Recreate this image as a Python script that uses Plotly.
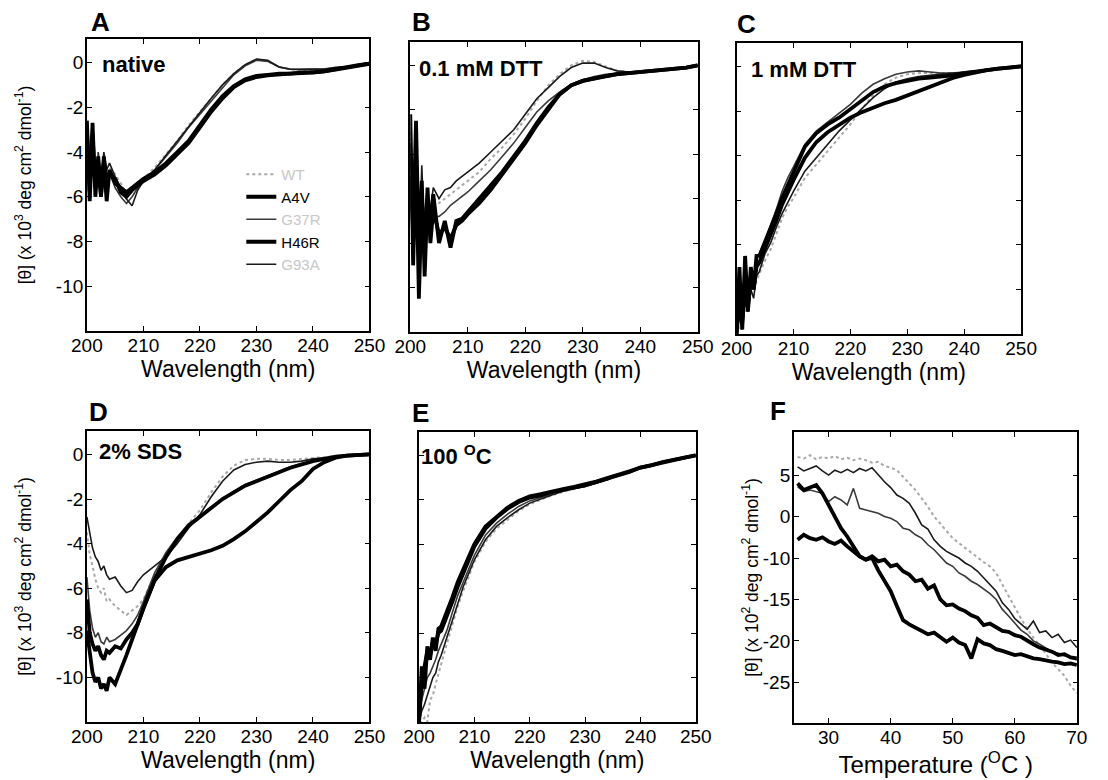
import plotly.graph_objects as go

# ---------------- data ----------------
WL = [200, 200.5, 201, 201.5, 202, 202.5, 203, 203.5, 204, 205, 206, 207, 208, 209, 210,
      212, 214, 216, 218, 220, 222, 224, 226, 228, 230, 232, 234, 236, 238, 240,
      242, 244, 246, 248, 250]

SERIES = ["WT", "A4V", "G37R", "H46R", "G93A"]

# Panel A: native
A_WT = [-2.8, -4.5, -3.4, -5.2, -4.6, -5.5, -4.4, -5.2, -4.7, -5.0, -5.4, -5.9, -5.8, -5.5, -5.2,
        -4.7, -4.1, -3.5, -2.8, -2.2, -1.6, -1.0, -0.5, -0.1, 0.15, 0.05, -0.2, -0.3, -0.35, -0.3,
        -0.3, -0.25, -0.2, -0.1, 0.0]
A_A4V = [-3.0, -5.8, -2.7, -6.0, -4.2, -5.9, -4.5, -6.2, -4.8, -5.4, -5.6, -5.8, -5.6, -5.4, -5.2,
         -4.9, -4.5, -4.0, -3.5, -2.8, -2.1, -1.5, -1.05, -0.75, -0.6, -0.55, -0.5, -0.5, -0.45, -0.45,
         -0.4, -0.3, -0.2, -0.12, -0.05]
A_G37R = [-3.5, -5.0, -4.0, -6.0, -4.0, -5.0, -4.3, -5.6, -4.9, -5.6, -6.0, -6.3, -6.0, -5.6, -5.3,
          -4.8, -4.2, -3.6, -2.9, -2.3, -1.7, -1.1, -0.55, -0.15, 0.1, 0.05, -0.2, -0.3, -0.3, -0.3,
          -0.28, -0.25, -0.2, -0.1, 0.0]
A_H46R = [-2.6, -6.2, -3.2, -5.6, -4.8, -6.0, -4.2, -5.4, -5.0, -5.2, -5.8, -6.0, -5.7, -5.5, -5.3,
          -5.0, -4.6, -4.1, -3.6, -2.9, -2.2, -1.6, -1.1, -0.8, -0.65, -0.58, -0.52, -0.5, -0.47, -0.45,
          -0.4, -0.32, -0.22, -0.14, -0.06]
A_G93A = [-3.2, -4.8, -3.0, -5.4, -4.4, -5.2, -4.0, -4.8, -4.5, -5.1, -5.6, -6.1, -6.4, -5.7, -5.3,
          -4.8, -4.15, -3.5, -2.85, -2.2, -1.6, -1.0, -0.5, -0.1, 0.15, 0.1, -0.2, -0.3, -0.32, -0.3,
          -0.3, -0.22, -0.18, -0.1, 0.0]

# Panel B: 0.1 mM DTT
B_WT = [-3.0, -6.5, -4.0, -7.5, -5.5, -7.0, -5.8, -6.6, -6.0, -6.2, -6.0, -5.8, -5.6, -5.4, -5.2,
        -4.8, -4.2, -3.7, -3.1, -2.4, -1.6, -0.9, -0.4, 0.0, 0.2, 0.15, -0.05, -0.25, -0.3, -0.3,
        -0.25, -0.2, -0.15, -0.1, 0.0]
B_A4V = [-2.2, -9.0, -4.0, -10.5, -6.0, -8.4, -5.5, -8.0, -6.5, -7.6, -7.3, -7.8, -7.2, -7.0, -6.7,
         -6.2, -5.6, -4.9, -4.2, -3.5, -2.7, -2.0, -1.3, -0.9, -0.7, -0.6, -0.5, -0.4, -0.35, -0.3,
         -0.27, -0.23, -0.18, -0.1, 0.0]
B_G37R = [-3.5, -6.5, -5.0, -7.5, -5.5, -7.0, -6.2, -7.2, -6.8, -6.8, -6.6, -6.3, -6.1, -5.9, -5.7,
          -5.2, -4.7, -4.1, -3.5, -2.8, -2.1, -1.6, -1.2, -0.85, -0.65, -0.5, -0.4, -0.35, -0.3, -0.3,
          -0.25, -0.2, -0.15, -0.1, 0.0]
B_H46R = [-5.0, -7.5, -2.5, -8.5, -5.2, -9.5, -6.0, -7.2, -5.8, -8.0, -7.0, -8.2, -7.0, -6.9, -6.6,
          -6.0, -5.4, -4.8, -4.1, -3.4, -2.6, -1.9, -1.3, -0.9, -0.7, -0.58, -0.48, -0.4, -0.35, -0.3,
          -0.27, -0.22, -0.17, -0.1, 0.0]
B_G93A = [-4.0, -7.5, -3.0, -9.0, -4.5, -7.8, -5.8, -6.5, -5.5, -6.0, -5.6, -5.5, -5.2, -5.0, -4.8,
          -4.4, -3.9, -3.4, -2.9, -2.2, -1.5, -1.0, -0.5, -0.1, 0.1, 0.1, -0.1, -0.25, -0.3, -0.3,
          -0.25, -0.2, -0.15, -0.1, 0.0]

# Panel C: 1 mM DTT
C_WT = [-12.0, -11.8, -11.5, -11.0, -10.8, -10.3, -10.0, -9.6, -9.3, -8.7, -8.2, -7.5, -6.8, -6.3, -5.9,
        -5.0, -4.4, -3.8, -3.2, -2.6, -1.9, -1.3, -0.8, -0.5, -0.35, -0.3, -0.3, -0.3, -0.3, -0.25,
        -0.2, -0.15, -0.1, -0.05, 0.0]
C_A4V = [-12.0, -10.5, -11.5, -9.6, -10.8, -9.4, -10.0, -9.0, -8.8, -8.2, -7.6, -6.9, -6.2, -5.6, -5.1,
         -4.1, -3.4, -2.95, -2.6, -2.3, -2.05, -1.85, -1.65, -1.5, -1.3, -1.1, -0.9, -0.7, -0.52, -0.38,
         -0.27, -0.17, -0.1, -0.05, 0.0]
C_G37R = [-11.5, -10.0, -11.0, -9.2, -10.2, -9.0, -9.6, -8.6, -8.4, -7.8, -7.1, -6.4, -5.6, -5.0, -4.5,
          -3.5, -2.9, -2.5, -2.1, -1.7, -1.2, -0.8, -0.55, -0.35, -0.25, -0.2, -0.25, -0.3, -0.3, -0.28,
          -0.22, -0.17, -0.12, -0.06, 0.0]
C_H46R = [-12.0, -9.0, -11.8, -8.5, -11.0, -9.0, -10.0, -8.5, -8.5, -7.9, -7.3, -6.6, -5.9, -5.3, -4.8,
          -3.6, -3.0, -2.6, -2.3, -1.9, -1.5, -1.15, -0.9, -0.75, -0.65, -0.55, -0.5, -0.45, -0.4, -0.3,
          -0.22, -0.15, -0.1, -0.05, 0.0]
C_G93A = [-12.0, -11.2, -11.8, -10.6, -11.0, -10.0, -10.4, -9.4, -9.2, -8.4, -7.9, -7.2, -6.6, -6.1, -5.6,
          -4.7, -4.1, -3.5, -2.9, -2.4, -1.9, -1.4, -1.0, -0.7, -0.55, -0.45, -0.4, -0.35, -0.3, -0.25,
          -0.2, -0.15, -0.1, -0.05, 0.0]

# Panel D: 2% SDS
D_WT = [-3.5, -4.5, -5.0, -5.6, -6.0, -6.2, -6.0, -6.6, -6.5, -6.8, -7.0, -7.2, -7.0, -6.8, -6.5,
        -5.4, -4.5, -3.8, -3.1, -2.5, -1.7, -1.0, -0.5, -0.25, -0.2, -0.2, -0.25, -0.25, -0.2, -0.15,
        -0.12, -0.08, -0.05, -0.02, 0.0]
D_A4V = [-6.5, -8.0, -8.5, -8.8, -8.6, -9.0, -9.2, -8.8, -8.9, -8.6, -8.7, -8.3, -8.0, -7.6, -6.9,
         -5.6, -4.6, -3.8, -3.2, -2.8, -2.4, -2.0, -1.7, -1.4, -1.2, -1.0, -0.8, -0.6, -0.45, -0.3,
         -0.2, -0.1, -0.05, -0.02, 0.0]
D_G37R = [-5.5, -7.0, -7.8, -8.2, -8.0, -8.4, -8.5, -8.2, -8.4, -8.3, -8.1, -7.9, -7.6, -7.2, -6.6,
          -5.3, -4.4, -3.7, -3.1, -2.75, -2.35, -2.0, -1.65, -1.35, -1.15, -0.95, -0.75, -0.55, -0.4, -0.28,
          -0.18, -0.1, -0.05, -0.02, 0.0]
D_H46R = [-7.9, -9.0, -9.8, -10.2, -10.0, -10.5, -10.3, -10.6, -10.0, -10.3, -9.7, -9.0, -8.3, -7.6, -6.9,
          -5.65, -5.05, -4.75, -4.6, -4.45, -4.3, -4.1, -3.8, -3.45, -3.05, -2.6, -2.1, -1.6, -1.2, -0.65,
          -0.35, -0.15, -0.05, -0.02, 0.0]
D_G93A = [-2.8, -3.6, -4.2, -4.6, -4.8, -5.2, -5.0, -5.4, -5.6, -5.5, -5.9, -6.2, -6.1, -5.7, -5.4,
          -5.0, -4.6, -4.0, -3.3, -2.7, -1.9, -1.2, -0.7, -0.45, -0.35, -0.3, -0.35, -0.35, -0.3, -0.2,
          -0.15, -0.1, -0.05, -0.02, 0.0]

# Panel E: 100 oC
E_WT = [-12.0, -12.0, -11.8, -12.0, -11.0, -10.8, -10.3, -9.8, -9.4, -8.5, -7.6, -6.8, -6.1, -5.45, -4.8,
        -3.9, -3.3, -2.9, -2.5, -2.2, -2.0, -1.8, -1.65, -1.5, -1.4, -1.25, -1.1, -0.9, -0.75, -0.55,
        -0.45, -0.3, -0.2, -0.1, 0.0]
E_A4V = [-12.0, -10.2, -9.5, -8.8, -9.0, -8.4, -8.5, -8.0, -7.9, -7.3, -6.6, -5.9, -5.3, -4.7, -4.1,
         -3.3, -2.8, -2.4, -2.1, -1.9, -1.8, -1.65, -1.55, -1.45, -1.35, -1.2, -1.05, -0.9, -0.75, -0.55,
         -0.45, -0.3, -0.2, -0.1, 0.0]
E_G37R = [-11.5, -11.0, -10.5, -10.0, -9.8, -9.5, -9.2, -8.8, -8.5, -7.9, -7.1, -6.3, -5.7, -5.1, -4.5,
          -3.6, -3.05, -2.65, -2.3, -2.05, -1.9, -1.75, -1.6, -1.5, -1.4, -1.25, -1.1, -0.9, -0.75, -0.55,
          -0.45, -0.3, -0.2, -0.1, 0.0]
E_H46R = [-12.0, -9.5, -10.5, -8.6, -9.2, -8.2, -8.8, -7.8, -7.7, -7.1, -6.4, -5.7, -5.1, -4.5, -4.0,
          -3.2, -2.75, -2.35, -2.05, -1.85, -1.75, -1.62, -1.52, -1.42, -1.32, -1.18, -1.02, -0.88, -0.72, -0.55,
          -0.43, -0.3, -0.2, -0.1, 0.0]
E_G93A = [-12.0, -11.5, -11.2, -10.8, -10.4, -10.0, -9.8, -9.3, -9.0, -8.2, -7.4, -6.6, -5.9, -5.3, -4.7,
          -3.8, -3.2, -2.8, -2.45, -2.15, -1.95, -1.78, -1.62, -1.5, -1.4, -1.25, -1.1, -0.9, -0.75, -0.55,
          -0.45, -0.3, -0.2, -0.1, 0.0]

# Panel F: thermal melts (temperature in oC)
TEMP = [25, 26, 27, 28, 29, 30, 31, 32, 33, 34, 35, 36, 37, 38, 39, 40, 41, 42, 43, 44, 45, 46, 47,
        48, 49, 50, 51, 52, 53, 54, 55, 56, 57, 58, 59, 60, 61, 62, 63, 64, 65, 66, 67, 68, 69, 70]
F_WT = [2.2, 2.0, 2.4, 1.9, 2.2, 2.0, 2.3, 1.9, 2.1, 1.8,
        2.0, 1.8, 1.5, 1.6, 1.1, 0.9, 0.6, -0.2, -1.0, -1.8,
        -2.8, -3.8, -5.0, -5.9, -6.7, -7.6, -8.2, -8.8, -9.4, -10.0,
        -10.5, -11.0, -11.8, -13.2, -14.6, -16.0, -17.3, -18.5, -19.6, -20.5,
        -21.5, -22.6, -23.4, -24.2, -25.4, -26.3]
F_G93A = [1.0, 0.5, 0.8, 1.1, 0.5, 0.0, 0.6, 0.3, 0.7, 0.3,
          0.8, 0.5, 0.9, 0.0, -0.8, -1.5, -2.4, -2.8, -3.4, -4.6,
          -6.0, -6.5, -7.8, -8.6, -9.2, -9.6, -10.0, -10.6, -11.0, -11.6,
          -12.4, -13.2, -14.0, -15.4, -16.2, -17.3, -18.0, -18.6, -17.6, -19.0,
          -18.8, -19.6, -19.2, -20.2, -19.9, -20.8]
F_G37R = [-1.4, -2.0, -1.8, -2.0, -2.2, -3.2, -2.6, -3.0, -3.6, -1.6,
          -4.0, -4.2, -4.4, -4.6, -5.0, -5.2, -5.6, -6.4, -6.6, -7.2,
          -7.6, -8.4, -9.0, -9.8, -10.6, -11.0, -11.8, -12.2, -12.8, -13.2,
          -13.7, -14.3, -15.0, -16.2, -17.0, -17.8, -18.7, -19.2, -20.0, -20.4,
          -20.8, -21.3, -21.5, -21.8, -22.0, -22.3]
F_A4V = [-1.0, -1.8, -1.5, -1.2, -2.2, -3.6, -5.0, -6.4, -7.4, -8.6,
         -9.8, -10.2, -9.8, -10.4, -10.2, -11.0, -10.8, -11.6, -12.0, -12.8,
         -12.6, -13.7, -13.3, -15.0, -15.7, -15.6, -16.1, -16.4, -16.9, -17.2,
         -18.1, -17.9, -18.3, -18.8, -18.9, -19.3, -19.5, -20.0, -20.4, -20.8,
         -21.0, -21.3, -21.7, -21.6, -22.0, -22.1]
F_H46R = [-7.8, -7.2, -7.6, -7.8, -7.5, -8.0, -8.3, -7.9, -8.6, -9.2,
          -9.8, -10.2, -10.0, -11.5, -12.8, -14.0, -15.8, -17.5, -18.0, -18.4,
          -18.8, -19.2, -19.0, -19.6, -20.1, -19.6, -20.2, -20.5, -22.1, -19.8,
          -20.3, -20.5, -21.0, -21.2, -21.4, -21.7, -21.6, -21.9, -22.1, -22.2,
          -22.4, -22.5, -22.6, -22.8, -22.7, -22.9]

# tick labels
WL_TICKS = [200, 210, 220, 230, 240, 250]
CD_TICKS = [0, -2, -4, -6, -8, -10]
T_TICKS = [30, 40, 50, 60, 70]
F_TICKVALS = [0, -5, -10, -15, -20, -25]
F_TICKTEXT = ["5", "0", "-10", "-15", "-20", "-25"]

# ---------------- styling ----------------
W, H = 1108, 780
FONT = "Liberation Sans, Arial, Helvetica, sans-serif"

STYLE = {
    "WT": dict(color="#a8a8a8", width=2, dash="dot"),
    "A4V": dict(color="black", width=3.8),
    "G37R": dict(color="#3a3a3a", width=1.6),
    "H46R": dict(color="black", width=3.8),
    "G93A": dict(color="#1a1a1a", width=1.6),
}
LEG_NAME = {
    "WT": "<span style='color:#c8c8c8'>WT</span>",
    "A4V": "A4V",
    "G37R": "<span style='color:#c8c8c8'>G37R</span>",
    "H46R": "H46R",
    "G93A": "<span style='color:#c8c8c8'>G93A</span>",
}
LEG_RANK = {"WT": 1, "A4V": 2, "G37R": 3, "H46R": 4, "G93A": 5}
DRAW_ORDER = ["WT", "G37R", "G93A", "A4V", "H46R"]


def xd(a, b):
    return [a / W, b / W]


def yd(top, bottom):
    return [1 - bottom / H, 1 - top / H]


PANELS = [
    ("A", WL, dict(WT=A_WT, A4V=A_A4V, G37R=A_G37R, H46R=A_H46R, G93A=A_G93A), (73, 364), (39, 331), True),
    ("B", WL, dict(WT=B_WT, A4V=B_A4V, G37R=B_G37R, H46R=B_H46R, G93A=B_G93A), (406, 702), (42, 332), False),
    ("C", WL, dict(WT=C_WT, A4V=C_A4V, G37R=C_G37R, H46R=C_H46R, G93A=C_G93A), (742, 1035), (43, 334), False),
    ("D", WL, dict(WT=D_WT, A4V=D_A4V, G37R=D_G37R, H46R=D_H46R, G93A=D_G93A), (73, 364), (431, 722), True),
    ("E", WL, dict(WT=E_WT, A4V=E_A4V, G37R=E_G37R, H46R=E_H46R, G93A=E_G93A), (415, 700), (432, 722), False),
    ("F", TEMP, dict(WT=F_WT, A4V=F_A4V, G37R=F_G37R, H46R=F_H46R, G93A=F_G93A), (801, 1093), (432, 723), True),
]

fig = go.Figure()
layout = dict(
    width=W, height=H,
    margin=dict(l=0, r=0, t=0, b=0),
    paper_bgcolor="white", plot_bgcolor="white",
    font=dict(family=FONT, color="black"),
    showlegend=True,
    legend=dict(x=232 / W, y=1 - 158 / H, xanchor="left", yanchor="top",
                bgcolor="rgba(0,0,0,0)", font=dict(family=FONT, size=15, color="black"),
                traceorder="normal", itemclick=False),
)

axis_common = dict(showline=True, linecolor="black", linewidth=1.6, mirror="ticks",
                   ticks="inside", ticklen=5, tickwidth=1.3, tickcolor="black",
                   showgrid=False, zeroline=False,
                   tickfont=dict(family=FONT, size=19, color="black"))

ytitle3 = "[θ] (x 10<sup>3</sup> deg cm<sup>2</sup> dmol<sup>-1</sup>)"
ytitle2 = "[θ] (x 10<sup>2</sup> deg cm<sup>2</sup> dmol<sup>-1</sup>)"

for i, (key, xs, sd, (xa, xb), (yt, yb), ylab) in enumerate(PANELS):
    n = "" if i == 0 else str(i + 1)
    xname, yname = "xaxis" + n, "yaxis" + n
    xref, yref = "x" + n, "y" + n
    xax = dict(axis_common, domain=xd(xa, xb), anchor=yref, ticklabelstandoff=-4)
    yax = dict(axis_common, domain=yd(yt, yb), anchor=xref, ticklabelstandoff=-2)
    if key == "F":
        xax.update(range=[24.4, 70.1], tickvals=T_TICKS,
                   title=dict(text="Temperature (<sup>O</sup>C )", standoff=2,
                              font=dict(family=FONT, size=24)))
        yax.update(range=[-29.9, 5.2], tickvals=F_TICKVALS, ticktext=F_TICKTEXT,
                   title=dict(text=ytitle2, standoff=0, font=dict(family=FONT, size=17.5)))
    else:
        xax.update(range=[200, 250], tickvals=WL_TICKS,
                   title=dict(text="Wavelength (nm)", standoff=3,
                              font=dict(family=FONT, size=23)))
        yax.update(range=[-12, 1.05], tickvals=CD_TICKS, ticktext=[str(v) for v in CD_TICKS],
                   showticklabels=ylab)
        if ylab:
            yax.update(title=dict(text=ytitle3, standoff=20, font=dict(family=FONT, size=17.5)))
    layout[xname] = xax
    layout[yname] = yax

    for s in DRAW_ORDER:
        fig.add_trace(go.Scatter(
            x=xs, y=sd[s], mode="lines", line=STYLE[s],
            name=LEG_NAME[s], legendgroup=s, legendrank=LEG_RANK[s],
            showlegend=(key == "A"), xaxis=xref, yaxis=yref, hoverinfo="skip"))

annotations = []
LETTERS = [("A", 87, 22), ("B", 418, 22), ("C", 752, 24), ("D", 85, 412), ("E", 417, 413), ("F", 785, 411)]
for t, px, py in LETTERS:
    annotations.append(dict(text="<b>%s</b>" % t, x=px / W, y=1 - py / H, xref="paper", yref="paper",
                            xanchor="center", yanchor="middle", showarrow=False,
                            font=dict(family=FONT, size=26, color="black")))
CONDS = [("native", 86, 64), ("0.1 mM DTT", 413, 68), ("1 mM DTT", 755, 69),
         ("2% SDS", 83, 451), ("100 <sup>O</sup>C", 415, 455)]
for t, px, py in CONDS:
    annotations.append(dict(text="<b>%s</b>" % t, x=px / W, y=1 - py / H, xref="paper", yref="paper",
                            xanchor="left", yanchor="middle", showarrow=False,
                            font=dict(family=FONT, size=22, color="black")))
layout["annotations"] = annotations

fig.update_layout(**layout)
fig.write_html("out.html", config={"displayModeBar": False},
               post_script="document.body.style.margin='0px';")
